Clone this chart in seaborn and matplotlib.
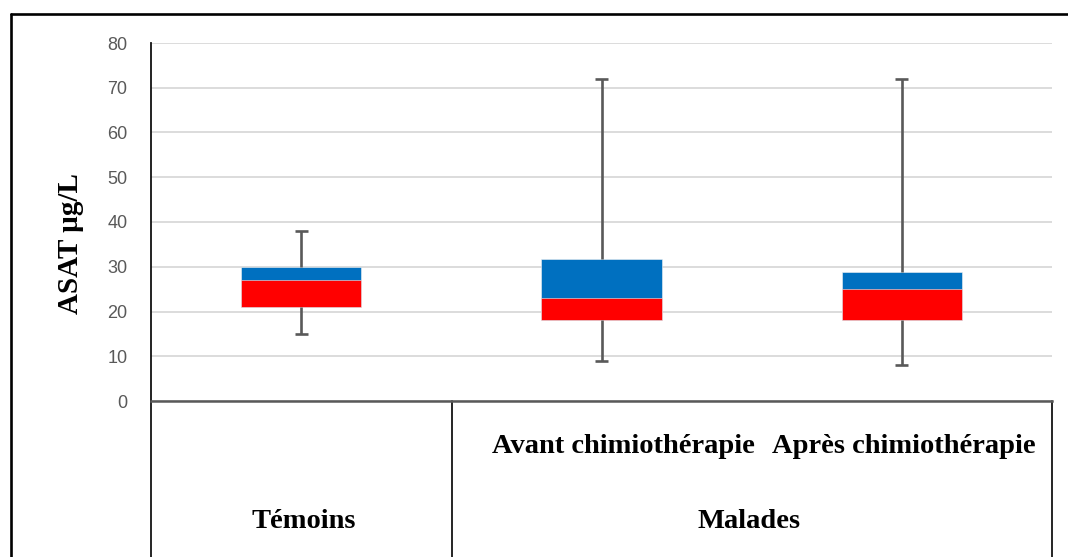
import matplotlib
matplotlib.use("Agg")
import matplotlib.pyplot as plt
import seaborn as sns
import pandas as pd
from matplotlib.lines import Line2D

# ---- data ----
categories = ["Témoins", "Avant chimiothérapie", "Après chimiothérapie"]
q_min = [15, 9, 8]
q1 = [21, 18, 18]
median = [27, 23, 25]
q3 = [30, 31.7, 28.8]
q_max = [38, 72, 72]
group_labels = ["Témoins", "Malades"]
y_ticks = [0, 10, 20, 30, 40, 50, 60, 70, 80]

sns.set_theme(style="white")
plt.rcParams['font.family'] = ['Liberation Sans', 'DejaVu Sans']

W, H = 1068, 557
fig = plt.figure(figsize=(W / 100, H / 100), dpi=100)
ax = fig.add_axes([151 / W, 1 - 401 / H, (1052 - 151) / W, (401 - 43) / H])

df = pd.DataFrame({
    "cat": categories,
    "upper": [b - a for a, b in zip(q1, q3)],
    "lower": [b - a for a, b in zip(q1, median)],
})

BLUE = "#0070C0"
RED = "#FF0000"
sns.barplot(data=df, x="cat", y="upper", order=categories, bottom=q1,
            color=BLUE, saturation=1, width=0.4, errorbar=None, ax=ax,
            edgecolor="#F2F2F2", linewidth=0.4)
sns.barplot(data=df, x="cat", y="lower", order=categories, bottom=q1,
            color=RED, saturation=1, width=0.4, errorbar=None, ax=ax,
            edgecolor="#F2F2F2", linewidth=0.4)

WH = "#595959"
cap = 0.022
for i in range(len(categories)):
    ax.vlines(i, q3[i], q_max[i], color=WH, lw=1.9, zorder=3)
    ax.vlines(i, q_min[i], q1[i], color=WH, lw=1.9, zorder=3)
    ax.hlines([q_max[i], q_min[i]], i - cap, i + cap, color=WH, lw=1.9, zorder=3)

ax.set_xlim(-0.5, 2.5)
ax.set_ylim(0, 80)
ax.set_yticks(y_ticks)
ax.set_yticklabels([str(t) for t in y_ticks], color="#595959", fontsize=13)
ax.tick_params(axis="y", length=0, pad=17)
ax.set_xticks(range(len(categories)))
ax.set_xticklabels([""] * len(categories))
ax.tick_params(axis="x", length=0)
ax.set_xlabel("")
ax.set_ylabel("")
ax.yaxis.grid(True, color="#D9D9D9", lw=1.3)
ax.set_axisbelow(True)
for s in ["top", "right"]:
    ax.spines[s].set_visible(False)
ax.spines["left"].set_color("#111111")
ax.spines["left"].set_linewidth(1.3)
ax.spines["bottom"].set_color("#595959")
ax.spines["bottom"].set_linewidth(1.8)

# category axis separators (multi-level)
ybot = -(H - 401) / (401 - 43)
for xa in [0.0, (452 - 151) / (1052 - 151), 1.0]:
    ax.add_line(Line2D([xa, xa], [0, ybot], transform=ax.transAxes,
                       color="black", lw=1.2, clip_on=False))

serif = ['Liberation Serif', 'DejaVu Serif']
tr = ax.get_xaxis_transform()
y_sub = (401 - 453) / (401 - 43)
y_grp = (401 - 528) / (401 - 43)
txt_kw = dict(transform=tr, ha="center", va="baseline", fontsize=20.5,
              fontweight="bold", family=serif, color="black")
ax.text(1.072, y_sub, categories[1], **txt_kw)
ax.text(2.007, y_sub, categories[2], **txt_kw)
ax.text(0.01, y_grp, group_labels[0], **txt_kw)
ax.text(1.49, y_grp, group_labels[1], **txt_kw)

fig.text(71 / W, 1 - 244 / H, "ASAT µg/L", rotation=90, ha="center", va="center",
         fontsize=21, fontweight="bold", family=serif, color="black")

# outer frame (left and top)
fig.add_artist(Line2D([11 / W, 11 / W], [0, 1 - 13.5 / H], transform=fig.transFigure,
                      color="black", lw=1.9))
fig.add_artist(Line2D([11 / W, 1], [1 - 13.5 / H, 1 - 13.5 / H], transform=fig.transFigure,
                      color="black", lw=1.9))

fig.savefig("out.png", dpi=100)
